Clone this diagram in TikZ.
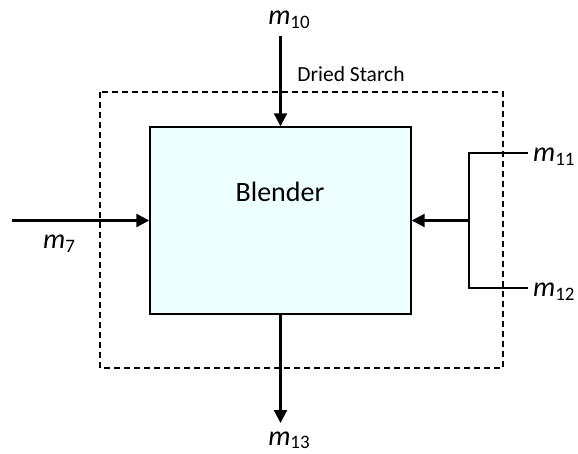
\documentclass[tikz,border=0pt]{standalone}
\usepackage{fontspec}
\setmainfont{Carlito}
\usetikzlibrary{arrows.meta}
\definecolor{boxfill}{HTML}{EEFFFF}
\newcommand\msub[1]{{\itshape m}\raisebox{-3.5pt}{\fontsize{19}{19}\selectfont #1}}
\tikzset{
  flow/.style={line width=2.2pt,-{Triangle[length=13pt,width=13pt]}},
  plain/.style={line width=2.2pt},
  mlab/.style={inner sep=0pt,font=\fontsize{28}{28}\selectfont},
  unit/.style={draw,line width=1.4pt,fill=boxfill,minimum width=261pt,minimum height=187pt,inner sep=0pt},
  boundary/.style={draw,dashed,line width=1.4pt,dash pattern=on 6pt off 4pt}
}
\begin{document}
\begin{tikzpicture}[x=1pt,y=-1pt]
\useasboundingbox (0,0) rectangle (578,454);
\draw[boundary] (100,92) rectangle (503,368);
\node[inner sep=0pt,anchor=base,font=\fontsize{21.5}{21.5}\selectfont] (ds) at (351,82) {Dried Starch};
\node[unit] (blender) at (280.5,220.5) {};
\node[inner sep=0pt,anchor=base,font=\fontsize{28}{28}\selectfont] (bl) at (280,202) {Blender};
% inputs
\coordinate (a7) at (12,220.5);
\draw[flow] (a7) -- (blender.west);
\node[mlab,anchor=base west] (m7) at (43,249) {\msub{7}};
\coordinate (a10) at (280.5,36);
\draw[flow] (a10) -- (blender.north);
\node[mlab,anchor=base] (m10) at (289,25) {\msub{10}};
\coordinate (a11) at (528,153);
\coordinate (a12) at (528,288);
\coordinate (j1) at (469,153);
\coordinate (j2) at (469,288);
\coordinate (jm) at (469,220.5);
\draw[plain] (a11) -- (j1) -- (j2) -- (a12);
\draw[flow] (jm) -- (blender.east);
\node[mlab,anchor=base west] (m11) at (533,162) {\msub{11}};
\node[mlab,anchor=base west] (m12) at (533,297) {\msub{12}};
\coordinate (a13) at (280.5,423);
\draw[flow] (blender.south) -- (a13);
\node[mlab,anchor=base] (m13) at (289,445) {\msub{13}};
\end{tikzpicture}
\end{document}
